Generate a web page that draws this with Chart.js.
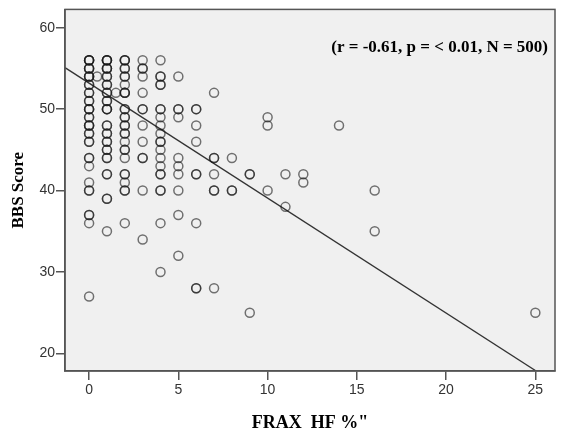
<!DOCTYPE html>
<html>
<head>
<meta charset="utf-8">
<script src="https://cdn.jsdelivr.net/npm/chart.js@4.4.0/dist/chart.umd.min.js"></script>
<style>
html, body { margin: 0; padding: 0; background: #fff; }
</style>
</head>
<body>
<canvas id="chart" width="561" height="436"></canvas>
<script>
// FRAX HF % levels and the BBS scores seen at each (repeats = overlapping circles)
const fraxLevels = [0, 0.45, 1, 1.5, 2, 3, 4, 5, 6, 7, 8, 9, 10, 11, 12, 14, 16, 25];
const bbsScores = [
    [56, 56, 56, 56, 55, 55, 55, 54, 54, 54, 53, 53, 52, 52, 51, 51, 50, 50, 50, 49, 49, 48, 48, 48, 47, 47, 46, 46, 44, 44, 43, 41, 40, 40, 37, 37, 36, 27],
    [54],
    [56, 56, 56, 56, 55, 55, 55, 54, 54, 53, 53, 52, 52, 51, 51, 50, 50, 50, 48, 48, 47, 47, 46, 46, 45, 45, 44, 44, 42, 42, 39, 39, 35],
    [52],
    [56, 56, 56, 55, 55, 54, 54, 53, 52, 52, 52, 50, 50, 49, 49, 48, 48, 47, 47, 46, 45, 45, 44, 42, 42, 41, 40, 40, 36],
    [56, 55, 55, 54, 52, 50, 50, 48, 46, 44, 44, 40, 34],
    [56, 54, 54, 53, 53, 50, 50, 49, 48, 47, 46, 46, 45, 44, 43, 42, 42, 40, 40, 36, 30],
    [54, 50, 50, 49, 44, 43, 42, 40, 37, 32],
    [50, 50, 48, 46, 42, 42, 36, 28, 28],
    [52, 44, 44, 42, 40, 40, 28],
    [44, 40, 40],
    [42, 42, 25],
    [49, 48, 40],
    [42, 38],
    [42, 41],
    [48],
    [40, 35],
    [25]
];

// fitted line end points
const fitX = [-1.35, 25];
const fitY = [55.1, 17.9];

const xTicks = [0, 5, 10, 15, 20, 25];
const yTicks = [20, 30, 40, 50, 60];

const statsText = '(r = -0.61, p = < 0.01, N = 500)';

const points = [];
fraxLevels.forEach((f, i) => {
    for (const s of bbsScores[i])
        points.push({x: f, y: s});
});

const plotFrame = {
    id: 'plotFrame',
    beforeDraw: (chart) => {
        const {ctx, chartArea: a} = chart;
        ctx.save();
        ctx.fillStyle = '#fff';
        ctx.fillRect(0, 0, chart.width, chart.height);
        ctx.fillStyle = '#f0f0f0';
        ctx.fillRect(a.left, a.top, a.right - a.left, a.bottom - a.top);
        ctx.restore();
    },
    afterDraw: (chart) => {
        const {ctx, chartArea: a} = chart;
        ctx.save();
        ctx.strokeStyle = '#555';
        ctx.lineWidth = 1.5;
        ctx.strokeRect(a.left, a.top, a.right - a.left, a.bottom - a.top);
        ctx.fillStyle = '#000';
        ctx.font = 'bold 17px "Liberation Serif", "Times New Roman", serif';
        ctx.textAlign = 'right';
        ctx.textBaseline = 'middle';
        ctx.fillText(statsText, 548, 48);
        ctx.restore();
    }
};

const tickFont = {family: '"Liberation Sans Narrow", "Liberation Sans", sans-serif', size: 14};

const config = {
    type: 'scatter',
    data: {
        datasets: [{
            label: 'BBS',
            data: points,
            pointStyle: 'circle',
            pointRadius: 4.5,
            pointBorderWidth: 1.5,
            backgroundColor: 'rgba(0,0,0,0)',
            borderColor: 'rgba(25,25,25,0.6)',
            pointHoverRadius: 4.5
        }, {
            type: 'line',
            label: 'Fit',
            data: fitX.map((x, i) => ({x: x, y: fitY[i]})),
            borderColor: '#333',
            borderWidth: 1.3,
            pointRadius: 0,
            fill: false
        }]
    },
    options: {
        responsive: false,
        animation: false,
        events: [],
        layout: {padding: {top: 7, right: 3, left: 0, bottom: 0}},
        plugins: {
            legend: {display: false},
            tooltip: {enabled: false}
        },
        scales: {
            x: {
                type: 'linear',
                min: -1.35,
                max: 26.1,
                afterBuildTicks: (scale) => { scale.ticks = xTicks.map(v => ({value: v})); },
                afterFit: (scale) => { scale.height = 65; },
                grid: {drawOnChartArea: false, drawTicks: true, tickLength: 9, color: '#555', lineWidth: 1.5},
                border: {display: true, color: '#555', width: 1.5},
                ticks: {font: tickFont, color: '#333', padding: 2, maxRotation: 0},
                title: {
                    display: true,
                    text: 'FRAX  HF %"',
                    color: '#000',
                    font: {family: '"Liberation Serif", "Times New Roman", serif', size: 18, weight: 'bold'},
                    padding: {top: 0, bottom: 2}
                }
            },
            y: {
                type: 'linear',
                min: 17.84,
                max: 62.25,
                afterBuildTicks: (scale) => { scale.ticks = yTicks.map(v => ({value: v})); },
                afterFit: (scale) => { scale.width = 65; },
                grid: {drawOnChartArea: false, drawTicks: true, tickLength: 9, color: '#555', lineWidth: 1.5},
                border: {display: true, color: '#555', width: 1.5},
                ticks: {font: tickFont, color: '#333', padding: 1},
                title: {
                    display: true,
                    text: 'BBS Score',
                    color: '#000',
                    font: {family: '"Liberation Serif", "Times New Roman", serif', size: 17, weight: 'bold'},
                    padding: {top: 8, bottom: 0}
                }
            }
        }
    },
    plugins: [plotFrame]
};

new Chart(document.getElementById('chart'), config);
</script>
</body>
</html>
